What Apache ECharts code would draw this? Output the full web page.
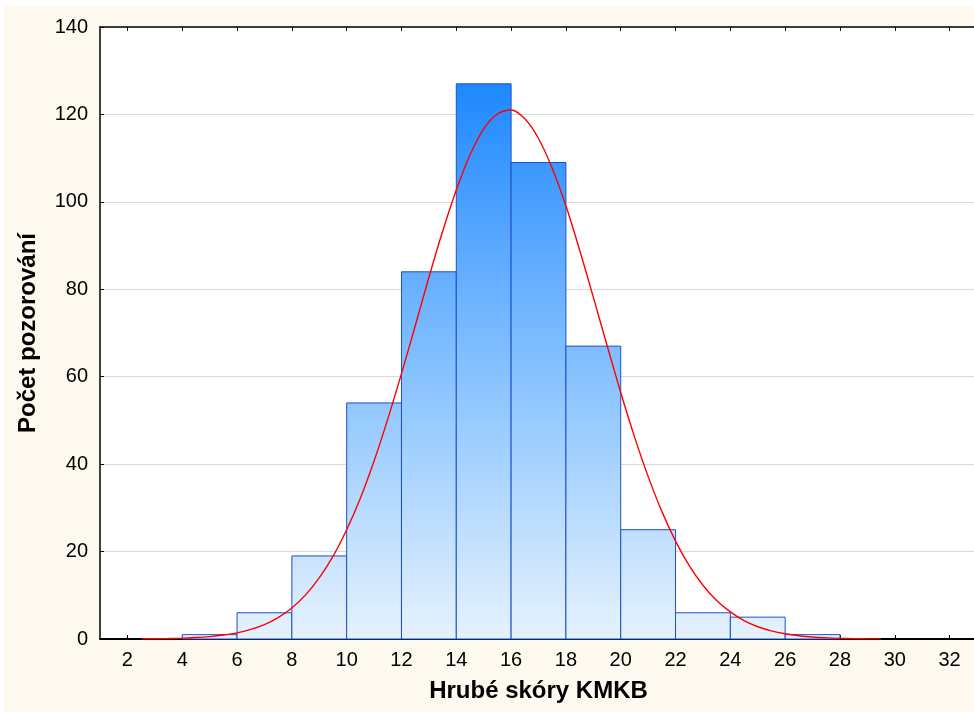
<!DOCTYPE html>
<html>
<head>
<meta charset="utf-8">
<script src="https://cdn.jsdelivr.net/npm/echarts@6/dist/echarts.min.js"></script>
<style>
  html, body { margin: 0; padding: 0; background: #ffffff; width: 974px; height: 712px; overflow: hidden; }
  #chart { position: absolute; left: 4px; top: 6px; width: 970px; height: 706px; background: #fdf9ee; }
</style>
</head>
<body>
<div id="chart"></div>
<script>
// Histogram bins (lower edge, upper edge) and counts
var binStart = [4, 6, 8, 10, 12, 14, 16, 18, 20, 22, 24, 26];
var binEnd   = [6, 8, 10, 12, 14, 16, 18, 20, 22, 24, 26, 28];
var counts   = [1, 6, 19, 54, 84, 127, 109, 67, 25, 6, 5, 1];

// Fitted normal curve
var curveX = [2.5, 3, 3.5, 4, 4.5, 5, 5.5, 6, 6.5, 7, 7.5, 8, 8.5, 9, 9.5, 10, 10.5, 11, 11.5, 12, 12.5, 13, 13.5, 14, 14.5, 15, 15.5, 16, 16.5, 17, 17.5, 18, 18.5, 19, 19.5, 20, 20.5, 21, 21.5, 22, 22.5, 23, 23.5, 24, 24.5, 25, 25.5, 26, 26.5, 27, 27.5, 28, 28.5, 29, 29.5];
var curveY = [0.04, 0.06, 0.11, 0.2, 0.33, 0.55, 0.9, 1.4, 2.2, 3.3, 4.9, 7.1, 10.1, 14.0, 18.9, 25.0, 32.2, 40.7, 50.3, 60.7, 71.6, 82.7, 93.2, 102.7, 110.7, 116.7, 120.1, 121.0, 119.0, 114.5, 107.7, 99.1, 89.0, 78.2, 67.2, 56.4, 46.3, 37.2, 29.2, 22.4, 16.8, 12.3, 8.8, 6.2, 4.2, 2.8, 1.85, 1.2, 0.74, 0.45, 0.27, 0.15, 0.09, 0.05, 0.03];

// Tick labels
var xTicks = [2, 4, 6, 8, 10, 12, 14, 16, 18, 20, 22, 24, 26, 28, 30, 32];
var yTicks = [0, 20, 40, 60, 80, 100, 120, 140];

var xTitle = 'Hrubé skóry KMKB';
var yTitle = 'Počet pozorování';

var FONT = '"Liberation Sans", Arial, sans-serif';

var chart = echarts.init(document.getElementById('chart'), null, { renderer: 'canvas' });

var barData = binStart.map(function (s, i) { return [s, binEnd[i], counts[i]]; });
var lineData = curveX.map(function (x, i) { return [x, curveY[i]]; });

var option = {
  animation: false,
  grid: {
    left: 96, top: 21, width: 877, bottom: 73,
    outerBoundsMode: 'none', containLabel: false,
    show: true, backgroundColor: '#ffffff', borderWidth: 0
  },
  xAxis: [{
    type: 'value', min: 1, max: 33,
    position: 'bottom',
    name: xTitle, nameLocation: 'middle', nameGap: 40,
    nameTextStyle: { fontFamily: FONT, fontSize: 24, fontWeight: 'bold', color: '#000' },
    axisLine: { show: true, lineStyle: { color: '#000', width: 1.8 } },
    axisTick: { show: true, inside: true, length: 4, customValues: xTicks, lineStyle: { color: '#000' } },
    axisLabel: { customValues: xTicks, fontFamily: FONT, fontSize: 20, color: '#000', margin: 11 },
    splitLine: { show: false }
  }, {
    type: 'value', min: 1, max: 33,
    position: 'top',
    axisLine: { show: true, lineStyle: { color: '#000', width: 1.5 } },
    axisTick: { show: true, inside: true, length: 4, customValues: xTicks, lineStyle: { color: '#000' } },
    axisLabel: { show: false },
    splitLine: { show: false }
  }],
  yAxis: {
    type: 'value', min: 0, max: 140, interval: 20,
    name: yTitle, nameLocation: 'middle', nameGap: 60,
    nameTextStyle: { fontFamily: FONT, fontSize: 24, fontWeight: 'bold', color: '#000' },
    axisLine: { show: true, lineStyle: { color: '#000', width: 1.5 } },
    axisTick: { show: true, inside: true, length: 4, lineStyle: { color: '#000' } },
    axisLabel: { fontFamily: FONT, fontSize: 20, color: '#000', margin: 12,
      formatter: function (v) { return yTicks.indexOf(v) >= 0 ? String(v) : ''; } },
    splitLine: { show: true, lineStyle: { color: '#d9d9d9', width: 1 } }
  },
  series: [{
    type: 'custom',
    xAxisIndex: 0,
    encode: { x: [0, 1], y: 2 },
    data: barData,
    z: 2,
    renderItem: function (params, api) {
      var p0 = api.coord([api.value(0), api.value(2)]);
      var p1 = api.coord([api.value(1), 0]);
      var gTop = api.coord([0, 127])[1];
      var gBot = api.coord([0, 0])[1];
      return {
        type: 'rect',
        shape: { x: p0[0], y: p0[1], width: p1[0] - p0[0], height: p1[1] - p0[1] },
        style: {
          fill: {
            type: 'linear', x: 0, y: gTop, x2: 0, y2: gBot, global: true,
            colorStops: [
              { offset: 0, color: '#1e88ff' },
              { offset: 0.34, color: '#64aeff' },
              { offset: 0.58, color: '#92c8ff' },
              { offset: 1, color: '#e6f2fd' }
            ]
          },
          stroke: '#1c4fcc',
          lineWidth: 1
        }
      };
    }
  }, {
    type: 'line',
    xAxisIndex: 0,
    data: lineData,
    smooth: 0.3,
    showSymbol: false,
    z: 3,
    lineStyle: { color: '#ff0000', width: 1.4 }
  }]
};
chart.setOption(option);
</script>
</body>
</html>
